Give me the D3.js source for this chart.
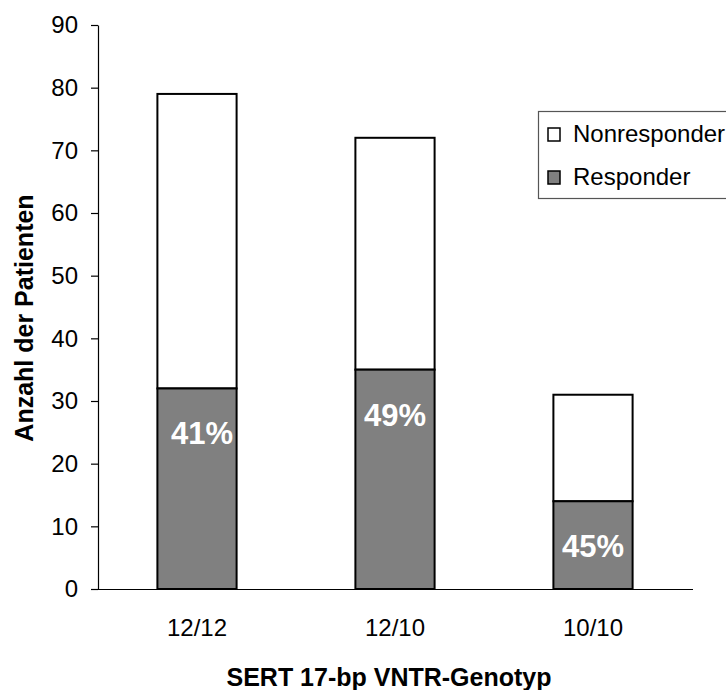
<!DOCTYPE html>
<html>
<head>
<meta charset="utf-8">
<script src="https://cdn.jsdelivr.net/npm/d3@7"></script>
<style>
  html, body { margin: 0; padding: 0; background: #fff; }
  svg { display: block; }
  text { font-family: "Liberation Sans", Arial, sans-serif; }
</style>
</head>
<body>
<svg id="chart" width="726" height="690"></svg>
<script>
// ---- data ----
const categories = ["12/12", "12/10", "10/10"];
const responder = [32, 35, 14];
const nonresponder = [47, 37, 17];
const percentLabels = ["41%", "49%", "45%"];
const yTicks = [0, 10, 20, 30, 40, 50, 60, 70, 80, 90];
const seriesNames = ["Nonresponder", "Responder"];
const xTitle = "SERT 17-bp VNTR-Genotyp";
const yTitle = "Anzahl der Patienten";

const svg = d3.select("#chart");
const plot = { left: 98, right: 692, top: 25, bottom: 589 };

const x = d3.scaleBand().domain(categories)
  .range([plot.left, plot.right]).paddingInner(0.6).paddingOuter(0.3);
const y = d3.scaleLinear().domain([0, 90]).range([plot.bottom, plot.top]);

const grey = "#808080";

// bars
const rows = categories.map((c, i) => ({ c, r: responder[i], n: nonresponder[i], p: percentLabels[i] }));
const g = svg.append("g");
g.selectAll("rect.non").data(rows).join("rect")
  .attr("class", "non")
  .attr("x", d => x(d.c)).attr("width", x.bandwidth())
  .attr("y", d => y(d.r + d.n)).attr("height", d => y(d.r) - y(d.r + d.n))
  .attr("fill", "#fff").attr("stroke", "#000").attr("stroke-width", 2);
g.selectAll("rect.resp").data(rows).join("rect")
  .attr("class", "resp")
  .attr("x", d => x(d.c)).attr("width", x.bandwidth())
  .attr("y", d => y(d.r)).attr("height", d => y(0) - y(d.r))
  .attr("fill", grey).attr("stroke", "#000").attr("stroke-width", 2);

// percent labels
g.selectAll("text.pct").data(rows).join("text")
  .attr("class", "pct")
  .attr("x", (d, i) => x(d.c) + x.bandwidth() / 2 + (i === 0 ? 5 : 0))
  .attr("y", d => y(d.r) + 56)
  .attr("text-anchor", "middle")
  .attr("font-size", 31).attr("font-weight", "bold").attr("fill", "#fff")
  .text(d => d.p);

// y axis
const yAxis = d3.axisLeft(y).tickValues(yTicks).tickSize(7).tickPadding(13).tickSizeOuter(0);
const ya = svg.append("g").attr("transform", `translate(${plot.left},0)`).call(yAxis);
ya.select(".domain").attr("stroke", "#000").attr("stroke-width", 1.2);
ya.selectAll(".tick line").attr("stroke", "#000").attr("stroke-width", 1.2);
ya.selectAll(".tick text").attr("font-size", 24).attr("fill", "#000")
  .attr("font-family", "Liberation Sans, Arial, sans-serif");

// x axis
const xAxis = d3.axisBottom(x).tickSize(0).tickPadding(30);
const xa = svg.append("g").attr("transform", `translate(0,${plot.bottom})`).call(xAxis);
xa.select(".domain").attr("d", `M${plot.left - 7},0.5H${plot.right + 1}`)
  .attr("stroke", "#000").attr("stroke-width", 1.2);
xa.selectAll(".tick text").attr("font-size", 24).attr("fill", "#000")
  .attr("font-family", "Liberation Sans, Arial, sans-serif");

// axis titles
svg.append("text")
  .attr("x", 389).attr("y", 686).attr("text-anchor", "middle")
  .attr("font-size", 25).attr("font-weight", "bold")
  .text(xTitle);
svg.append("text")
  .attr("transform", "translate(33,318) rotate(-90)").attr("text-anchor", "middle")
  .attr("font-size", 25).attr("font-weight", "bold")
  .text(yTitle);

// legend
const lg = svg.append("g");
lg.append("rect").attr("x", 538.5).attr("y", 111.5).attr("width", 200).attr("height", 87)
  .attr("fill", "#fff").attr("stroke", "#555").attr("stroke-width", 1.2);
const legFills = ["#fff", grey];
const legBase = [142, 185];
seriesNames.forEach((name, i) => {
  lg.append("rect").attr("x", 548).attr("y", legBase[i] - 14).attr("width", 12).attr("height", 13)
    .attr("fill", legFills[i]).attr("stroke", "#000").attr("stroke-width", 1.5);
  lg.append("text").attr("x", 573).attr("y", legBase[i]).attr("font-size", 24)
    .text(name);
});
</script>
</body>
</html>
